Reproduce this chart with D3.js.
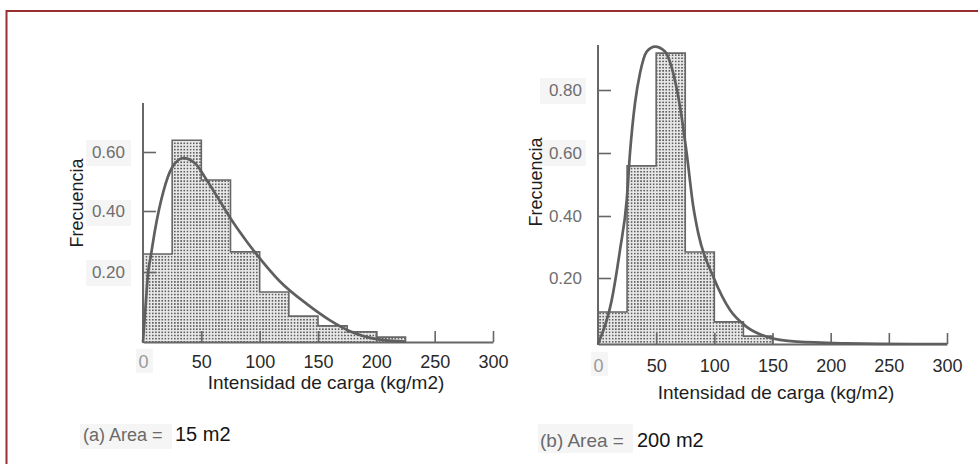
<!DOCTYPE html>
<html>
<head>
<meta charset="utf-8">
<script src="https://cdn.jsdelivr.net/npm/d3@7"></script>
<style>
  html, body { margin: 0; padding: 0; background: #fff; }
  svg { display: block; font-family: "Liberation Sans", Arial, sans-serif; }
</style>
</head>
<body>
<svg id="chart" width="978" height="464"></svg>
<script>
// Histogram bins (kg/m2) shared by both panels
const binEdges = [0, 25, 50, 75, 100, 125, 150, 175, 200, 225];

// (a) Area = 15 m2
const freqA = [0.259, 0.640, 0.505, 0.266, 0.143, 0.074, 0.046, 0.029, 0.014];
const curveAx = [0, 3.2, 4.5, 6.6, 10.3, 17.4, 24.6, 34.5, 44.6, 54.6, 66, 77.4, 88.9, 100.3, 117.4, 140.3, 160.3, 177.4, 200.3, 225];
const curveAy = [0, 0.149, 0.201, 0.25, 0.338, 0.465, 0.545, 0.579, 0.562, 0.505, 0.433, 0.362, 0.300, 0.244, 0.173, 0.109, 0.062, 0.031, 0.008, 0.001];

// (b) Area = 200 m2
const freqB = [0.097, 0.559, 0.917, 0.284, 0.067, 0.024];
const curveBx = [0, 11.8, 18.9, 24.7, 27.5, 31.8, 36.1, 41.9, 49, 57.6, 64.7, 70.5, 76.2, 81.9, 86.2, 99.1, 113.5, 127.8, 145, 170.8, 213.8, 270.8, 300];
const curveBy = [0, 0.133, 0.29, 0.451, 0.6, 0.758, 0.853, 0.922, 0.938, 0.922, 0.853, 0.747, 0.6, 0.43, 0.344, 0.204, 0.103, 0.052, 0.022, 0.007, 0.002, 0, 0];

// Axis ticks and labels
const xTicks = [0, 50, 100, 150, 200, 250, 300];
const yTicksA = [0.2, 0.4, 0.6];
const yTicksB = [0.2, 0.4, 0.6, 0.8];
const xTitle = "Intensidad de carga (kg/m2)";
const yTitle = "Frecuencia";
const areaLabels = ["(a) Area =", "(b) Area ="];
const areaValues = ["15 m2", "200 m2"];

const svg = d3.select("#chart");
const ink = "#676767";

// Frame
svg.append("rect")
  .attr("x", 6.5).attr("y", 11).attr("width", 1000).attr("height", 1000)
  .attr("fill", "none").attr("stroke", "#982f30").attr("stroke-width", 2);

// Stipple fill for the histogram bars
const defs = svg.append("defs");
const pat = defs.append("pattern")
  .attr("id", "stipple").attr("patternUnits", "userSpaceOnUse")
  .attr("width", 3.15).attr("height", 3.15);
pat.append("rect").attr("width", 3.15).attr("height", 3.15).attr("fill", "#e8e8e8");
pat.append("rect").attr("x", 0.8).attr("y", 0.8).attr("width", 1.6).attr("height", 1.6).attr("fill", "#5c5c5c");

// Faint paper patches behind some labels
const patches = [
  [80, 424, 92, 25], [538, 424, 95, 29], [136, 349, 17, 24], [591, 352, 17, 24],
  [86, 140, 45, 26], [86, 200, 45, 26], [86, 260, 45, 26], [540, 78, 46, 26], [540, 140, 46, 26]
];
svg.append("g").selectAll("rect").data(patches).join("rect")
  .attr("x", d => d[0]).attr("y", d => d[1]).attr("width", d => d[2]).attr("height", d => d[3])
  .attr("fill", "#f5f5f5");

const panels = [
  {
    x: d3.scaleLinear().domain([0, 300]).range([143, 493]),
    y: d3.scaleLinear().domain([0, 0.2, 0.4, 0.6]).range([342, 272, 211, 152]),
    yTop: 0.766, freq: freqA, cx: curveAx, cy: curveAy, yTicks: yTicksA,
    yPad: 18, xPad: 13, titleX: 326, titleY: 389, freqX: 83, freqY: 203,
    labelX: 83, labelY: 441, labelSize: 18, valueX: 175, valueSize: 20
  },
  {
    x: d3.scaleLinear().domain([0, 300]).range([598, 947]),
    y: d3.scaleLinear().domain([0, 0.2, 0.4, 0.6, 0.8]).range([344, 278, 216, 153, 90]),
    yTop: 0.943, freq: freqB, cx: curveBx, cy: curveBy, yTicks: yTicksB,
    yPad: 16, xPad: 15, titleX: 776, titleY: 399, freqX: 542, freqY: 182,
    labelX: 540, labelY: 447, labelSize: 19, valueX: 637, valueSize: 20
  }
];

panels.forEach((p, k) => {
  const g = svg.append("g");
  const x = p.x, y = p.y;

  // Bars
  g.append("g").selectAll("rect").data(p.freq).join("rect")
    .attr("x", (d, i) => x(binEdges[i]))
    .attr("width", (d, i) => x(binEdges[i + 1]) - x(binEdges[i]))
    .attr("y", d => y(d))
    .attr("height", d => y(0) - y(d))
    .attr("fill", "url(#stipple)");

  // Histogram outline (step path)
  const pts = [[binEdges[0], 0]];
  p.freq.forEach((f, i) => { pts.push([binEdges[i], f], [binEdges[i + 1], f]); });
  pts.push([binEdges[p.freq.length], 0]);
  g.append("path")
    .attr("d", d3.line().x(d => x(d[0])).y(d => y(d[1]))(pts))
    .attr("fill", "none").attr("stroke", ink).attr("stroke-width", 1.6);

  // X axis
  const xAxis = g.append("g").attr("transform", `translate(0,${y(0)})`)
    .call(d3.axisBottom(x).tickValues(xTicks).tickSize(-11).tickSizeOuter(0).tickPadding(p.xPad));
  xAxis.select(".domain").attr("stroke", ink).attr("stroke-width", 2);
  xAxis.selectAll(".tick line").attr("stroke", ink).attr("stroke-width", 1.6)
    .attr("opacity", d => d === 0 ? 0 : 1);
  xAxis.selectAll(".tick text")
    .attr("font-size", 18).attr("font-family", "Liberation Sans, Arial, sans-serif")
    .attr("fill", d => d === 0 ? "#9a9a9a" : "#2a2a2a");

  // Y axis
  const yAxis = g.append("g").attr("transform", `translate(${x(0)},0)`)
    .call(d3.axisLeft(y).tickValues(p.yTicks).tickSize(-13).tickSizeOuter(0)
      .tickPadding(p.yPad).tickFormat(d3.format(".2f")));
  yAxis.select(".domain").remove();
  yAxis.selectAll(".tick line").attr("stroke", ink).attr("stroke-width", 1.6);
  yAxis.selectAll(".tick text")
    .attr("font-size", 17).attr("font-family", "Liberation Sans, Arial, sans-serif")
    .attr("fill", "#6e6e6e");
  g.append("line")
    .attr("x1", x(0)).attr("x2", x(0)).attr("y1", y(0) + 1).attr("y2", y(p.yTop))
    .attr("stroke", ink).attr("stroke-width", 2);

  // Fitted curve
  const cpts = p.cx.map((v, i) => [v, p.cy[i]]);
  g.append("path")
    .attr("d", d3.line().x(d => x(d[0])).y(d => y(d[1])).curve(d3.curveMonotoneX)(cpts))
    .attr("fill", "none").attr("stroke", "#5f5f5f").attr("stroke-width", 2.7);

  // Titles
  g.append("text").attr("x", p.titleX).attr("y", p.titleY)
    .attr("text-anchor", "middle").attr("font-size", 19).attr("fill", "#1e1e1e")
    .text(xTitle);
  g.append("text").attr("transform", `translate(${p.freqX},${p.freqY}) rotate(-90)`)
    .attr("text-anchor", "middle").attr("font-size", 18).attr("fill", "#1e1e1e")
    .text(yTitle);

  // Panel caption
  g.append("text").attr("x", p.labelX).attr("y", p.labelY)
    .attr("font-size", p.labelSize).attr("fill", "#6a6a6a").text(areaLabels[k]);
  g.append("text").attr("x", p.valueX).attr("y", p.labelY)
    .attr("font-size", p.valueSize).attr("fill", "#151515").text(areaValues[k]);
});
</script>
</body>
</html>
